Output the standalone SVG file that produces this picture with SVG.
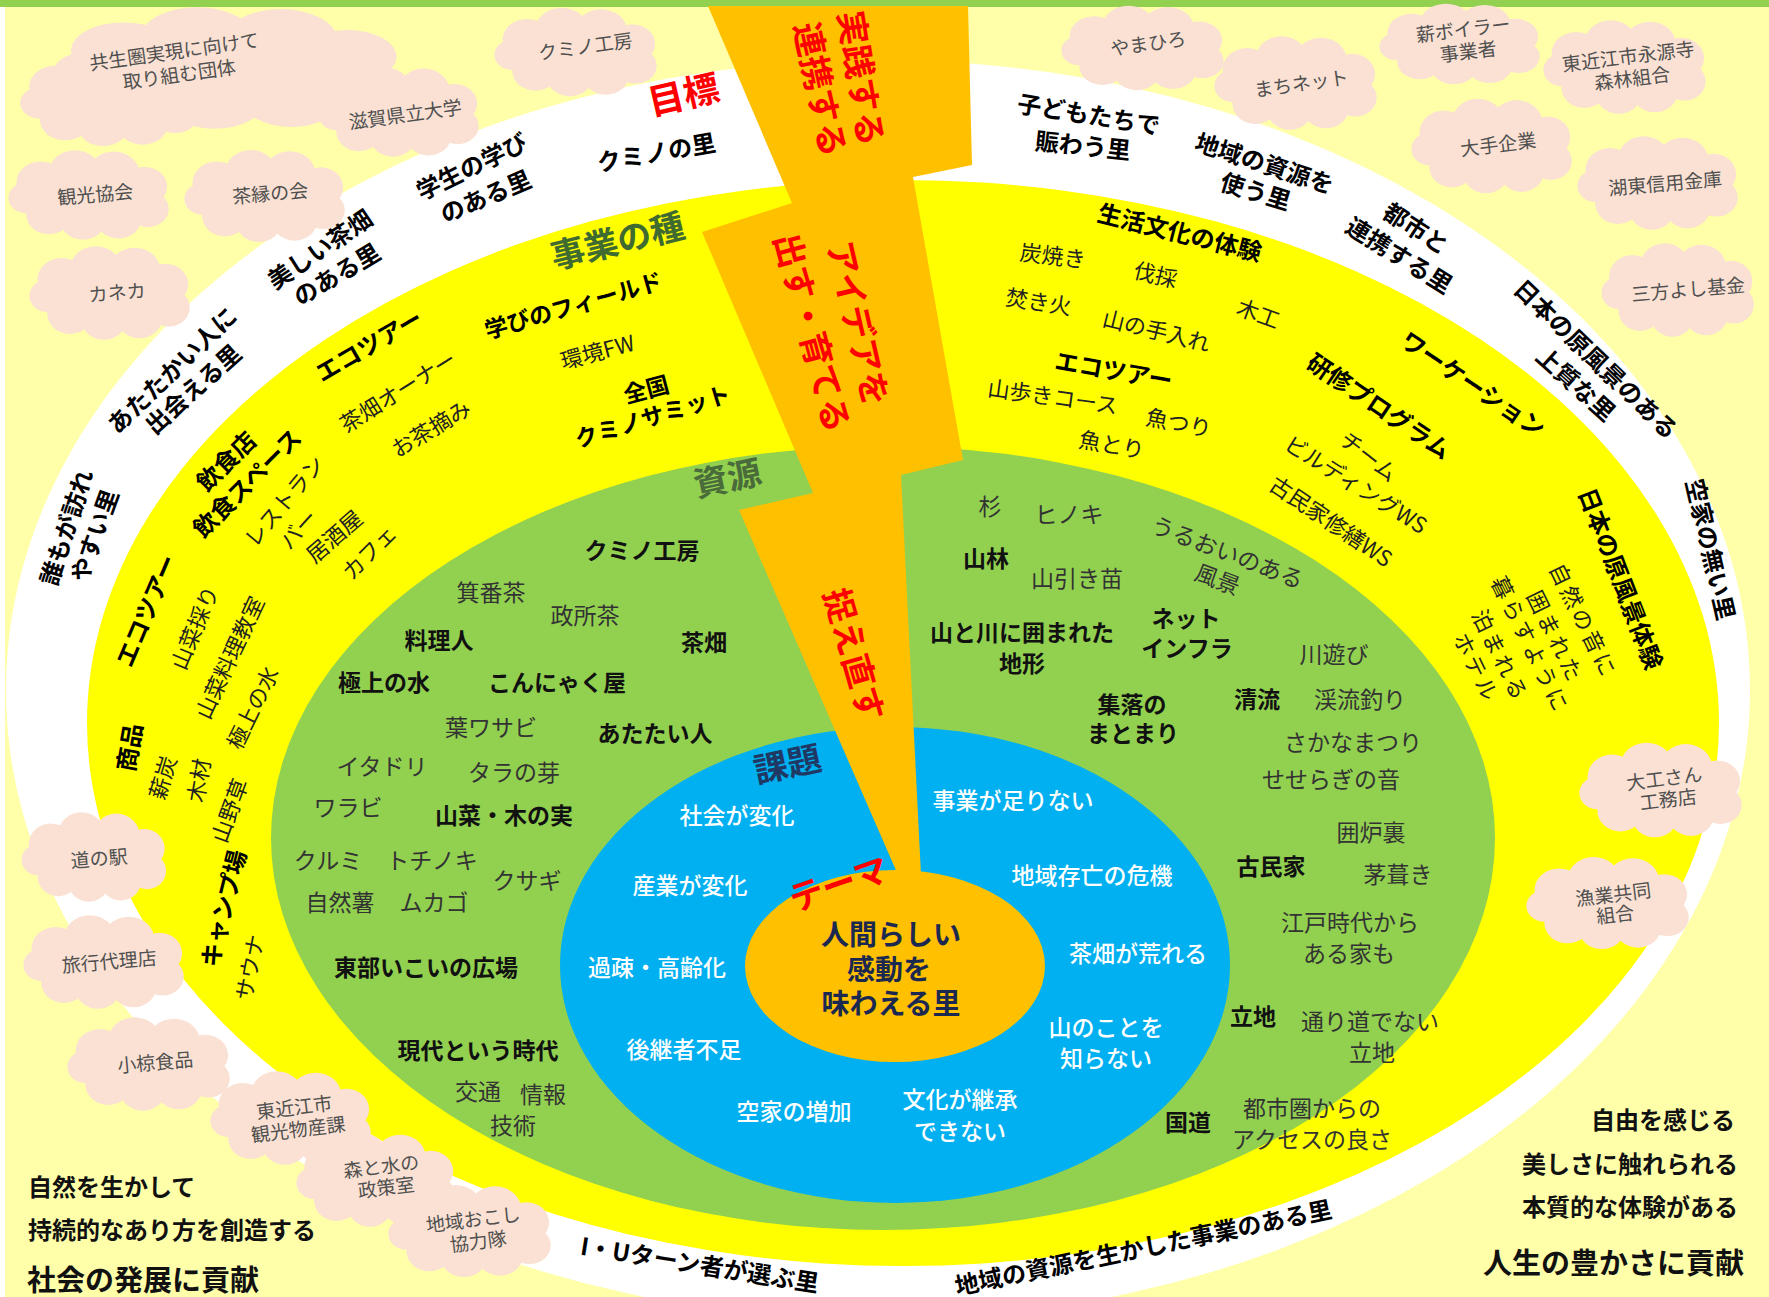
<svg xmlns="http://www.w3.org/2000/svg" xmlns:xlink="http://www.w3.org/1999/xlink" width="1769" height="1297" viewBox="0 0 1769 1297">
<style>
text{font-family:"Noto Sans CJK JP","Noto Sans CJK SC",sans-serif;dominant-baseline:central;text-anchor:middle}
.rb{font-size:24px;font-weight:700;fill:#000}
.yb{font-size:24px;font-weight:700;fill:#000}
.yn{font-size:22px;fill:#222}
.gb{font-size:23px;font-weight:700;fill:#111}
.gn{font-size:23px;fill:#333}
.wt{font-size:23px;font-weight:500;fill:#fff}
.cl{font-size:19px;fill:#505050}
.rd{font-size:34px;font-weight:700;fill:#ff0000}
.hd{font-size:34px;font-weight:700;fill:#3f6b30}
.ct{font-size:28px;font-weight:700;fill:#1b2850}
.ls{text-anchor:start;font-weight:700;fill:#111}
.rs{text-anchor:end;font-weight:700;fill:#111}
.cloud{fill:#FAE1D3}
</style>
<defs>
<g id="cloud">
<ellipse cx="0" cy="0" rx="80" ry="42"/>
<circle cx="-62" cy="-18" r="30"/>
<circle cx="-20" cy="-32" r="32"/>
<circle cx="28" cy="-30" r="32"/>
<circle cx="66" cy="-12" r="28"/>
<circle cx="70" cy="20" r="26"/>
<circle cx="34" cy="34" r="28"/>
<circle cx="-10" cy="36" r="28"/>
<circle cx="-52" cy="28" r="28"/>
<circle cx="-80" cy="4" r="22"/>
</g>
</defs>
<g id="background">
<rect width="1769" height="1297" fill="#FFFFA9"/>
<rect width="1769" height="7" fill="#92D050"/>
<rect x="0" y="7" width="5" height="1290" fill="#fff"/>
</g>
<g id="ring-goal"><ellipse cx="878" cy="690" rx="872" ry="630" fill="#fff"/></g>
<g id="ring-seeds"><ellipse cx="903" cy="723" rx="816" ry="543" fill="#FFFF00"/></g>
<g id="ring-resources"><ellipse cx="883" cy="838" rx="612" ry="392" fill="#92D050"/></g>
<g id="ring-issues"><ellipse cx="895" cy="965" rx="335" ry="238" fill="#00B0F0"/></g>
<g id="theme"><ellipse cx="895" cy="966" rx="150" ry="96" fill="#FFC000"/></g>
<g id="connectors">
<polygon id="bolt" fill="#FFC000" points="708,6 968,6 972,165 913,177 963,460 901,475 921,875 898,875 739,510 813,493 702,232 792,203"/>
</g>
<g id="clouds" class="cloud">
<use xlink:href="#cloud" transform="translate(232 68) scale(1.75 0.95)"/>
<use xlink:href="#cloud" transform="translate(112 100) scale(0.9 0.72)"/>
<use xlink:href="#cloud" transform="translate(578 52) scale(0.82 0.69)"/>
<use xlink:href="#cloud" transform="translate(401 112) scale(0.81 0.7)"/>
<use xlink:href="#cloud" transform="translate(91 195) scale(0.81 0.7)"/>
<use xlink:href="#cloud" transform="translate(267 196) scale(0.81 0.72)"/>
<use xlink:href="#cloud" transform="translate(112 293) scale(0.81 0.73)"/>
<use xlink:href="#cloud" transform="translate(1145 48) scale(0.82 0.66)"/>
<use xlink:href="#cloud" transform="translate(1298 83) scale(0.82 0.73)"/>
<use xlink:href="#cloud" transform="translate(1462 44) scale(0.81 0.63)"/>
<use xlink:href="#cloud" transform="translate(1627 67) scale(0.82 0.73)"/>
<use xlink:href="#cloud" transform="translate(1494 146) scale(0.81 0.74)"/>
<use xlink:href="#cloud" transform="translate(1660 183) scale(0.81 0.73)"/>
<use xlink:href="#cloud" transform="translate(1680 290) scale(0.77 0.73)"/>
<use xlink:href="#cloud" transform="translate(1663 790) scale(0.82 0.74)"/>
<use xlink:href="#cloud" transform="translate(1610 903) scale(0.82 0.72)"/>
<use xlink:href="#cloud" transform="translate(96 857) scale(0.73 0.7)"/>
<use xlink:href="#cloud" transform="translate(106 962) scale(0.81 0.73)"/>
<use xlink:href="#cloud" transform="translate(151 1064) scale(0.82 0.73)"/>
<use xlink:href="#cloud" transform="translate(293 1118) scale(0.81 0.73)"/>
<use xlink:href="#cloud" transform="translate(378 1180) scale(0.8 0.73)"/>
<use xlink:href="#cloud" transform="translate(472 1231) scale(0.82 0.72)"/>
</g>
<g id="cloud-labels" class="cl">
<text transform="translate(174 50) rotate(-8)">共生圏実現に向けて</text>
<text transform="translate(179 73) rotate(-8)">取り組む団体</text>
<text transform="translate(585 45) rotate(-8)">クミノ工房</text>
<text transform="translate(405 113) rotate(-8)">滋賀県立大学</text>
<text transform="translate(95 193) rotate(-5)">観光協会</text>
<text transform="translate(270 192) rotate(-5)">茶縁の会</text>
<text transform="translate(117 291) rotate(-5)">カネカ</text>
<text transform="translate(1148 42) rotate(-8)">やまひろ</text>
<text transform="translate(1301 82) rotate(-8)">まちネット</text>
<text transform="translate(1463 28) rotate(-7)">薪ボイラー</text>
<text transform="translate(1468 50) rotate(-7)">事業者</text>
<text transform="translate(1628 55) rotate(-7)">東近江市永源寺</text>
<text transform="translate(1632 77) rotate(-7)">森林組合</text>
<text transform="translate(1498 143) rotate(-7)">大手企業</text>
<text transform="translate(1665 182) rotate(-5)">湖東信用金庫</text>
<text transform="translate(1688 288) rotate(-5)">三方よし基金</text>
<text transform="translate(1664 777) rotate(-7)">大工さん</text>
<text transform="translate(1668 798) rotate(-7)">工務店</text>
<text transform="translate(1613 893) rotate(-7)">漁業共同</text>
<text transform="translate(1615 913) rotate(-7)">組合</text>
<text transform="translate(99 857) rotate(-5)">道の駅</text>
<text transform="translate(109 960) rotate(-5)">旅行代理店</text>
<text transform="translate(155 1061) rotate(-5)">小椋食品</text>
<text transform="translate(294 1106) rotate(-7)">東近江市</text>
<text transform="translate(298 1128) rotate(-7)">観光物産課</text>
<text transform="translate(381 1165) rotate(-7)">森と水の</text>
<text transform="translate(386 1186) rotate(-7)">政策室</text>
<text transform="translate(473 1218) rotate(-7)">地域おこし</text>
<text transform="translate(478 1240) rotate(-7)">協力隊</text>
</g>
<g id="goal-labels" class="rb">
<text class="rd" style="font-size:36px" transform="translate(683 92) rotate(-13)">目標</text>
<text transform="translate(656 151) rotate(-10)">クミノの里</text>
<text transform="translate(471 165) rotate(-26)">学生の学び</text>
<text transform="translate(485 195) rotate(-23)">のある里</text>
<text transform="translate(319 248) rotate(-34)">美しい茶畑</text>
<text transform="translate(336 273) rotate(-31)">のある里</text>
<text transform="translate(171 369) rotate(-44)">あたたかい人に</text>
<text transform="translate(192 388) rotate(-42)">出会える里</text>
<text transform="translate(65 527) rotate(-72)">誰もが訪れ</text>
<text transform="translate(93 535) rotate(-70)">やすい里</text>
<text transform="translate(1089 113) rotate(9)">子どもたちで</text>
<text transform="translate(1083 144) rotate(6)">賑わう里</text>
<text transform="translate(1265 162) rotate(18)">地域の資源を</text>
<text transform="translate(1256 190) rotate(17)">使う里</text>
<text transform="translate(1417 227) rotate(33)">都市と</text>
<text transform="translate(1400 254) rotate(32)">連携する里</text>
<text transform="translate(1597 358) rotate(44)">日本の原風景のある</text>
<text transform="translate(1577 383) rotate(42)">上質な里</text>
<text transform="translate(1712 549) rotate(77)">空家の無い里</text>
<text transform="translate(700 1263) rotate(9)">I・Uターン者が選ぶ里</text>
<text transform="translate(1143 1246) rotate(-11.7)">地域の資源を生かした事業のある里</text>
</g>
<g id="seed-labels">
<text class="hd" transform="translate(617 239) rotate(-14)">事業の種</text>
<text class="yb" style="font-size:23px" transform="translate(573 304) rotate(-16)">学びのフィールド</text>
<text class="yn" transform="translate(597 350) rotate(-15)">環境FW</text>
<text class="yb" style="font-size:23px" transform="translate(646 388) rotate(-15)">全国</text>
<text class="yb" style="font-size:23px" transform="translate(652 415) rotate(-17)">クミノサミット</text>
<text class="yb" transform="translate(368 344) rotate(-30)">エコツアー</text>
<text class="yn" transform="translate(397 390) rotate(-32)">茶畑オーナー</text>
<text class="yn" transform="translate(430 427) rotate(-31)">お茶摘み</text>
<text class="yb" transform="translate(225 460) rotate(-45)">飲食店</text>
<text class="yb" transform="translate(246 482) rotate(-45)">飲食スペース</text>
<text class="yn" transform="translate(283 500) rotate(-50)">レストラン</text>
<text class="yn" transform="translate(297 528) rotate(-48)">バー</text>
<text class="yn" transform="translate(333 535) rotate(-41)">居酒屋</text>
<text class="yn" transform="translate(368 551) rotate(-45)">カフェ</text>
<text class="yb" transform="translate(145 610) rotate(-67)">エコツアー</text>
<text class="yn" transform="translate(193 627) rotate(-67)">山菜採り</text>
<text class="yn" transform="translate(228 657) rotate(-65)">山菜料理教室</text>
<text class="yn" transform="translate(251 707) rotate(-64)">極上の水</text>
<text class="yb" transform="translate(128 747) rotate(-80)">商品</text>
<text class="yn" transform="translate(161 777) rotate(-73)">薪炭</text>
<text class="yn" transform="translate(197 780) rotate(-80)">木材</text>
<text class="yn" transform="translate(228 810) rotate(-70)">山野草</text>
<text class="yb" transform="translate(222 908) rotate(-76)">キャンプ場</text>
<text class="yn" transform="translate(248 967) rotate(-79)">サウナ</text>
<text class="yb" transform="translate(1180 231) rotate(14)">生活文化の体験</text>
<text class="yn" transform="translate(1053 254) rotate(7)">炭焼き</text>
<text class="yn" transform="translate(1156 273) rotate(14)">伐採</text>
<text class="yn" transform="translate(1039 300) rotate(9)">焚き火</text>
<text class="yn" transform="translate(1157 329) rotate(14)">山の手入れ</text>
<text class="yn" transform="translate(1259 312) rotate(20)">木工</text>
<text class="yb" transform="translate(1114 369) rotate(10)">エコツアー</text>
<text class="yn" transform="translate(1053 395) rotate(8)">山歩きコース</text>
<text class="yn" transform="translate(1179 421) rotate(11)">魚つり</text>
<text class="yn" transform="translate(1112 443) rotate(10)">魚とり</text>
<text class="yb" transform="translate(1474 383) rotate(34)">ワーケーション</text>
<text class="yb" transform="translate(1380 405) rotate(34)">研修プログラム</text>
<text class="yn" transform="translate(1370 455) rotate(38)">チーム</text>
<text class="yn" transform="translate(1357 483) rotate(32)">ビルディングWS</text>
<text class="yn" transform="translate(1332 520) rotate(34)">古民家修繕WS</text>
<text class="yb" transform="translate(1622 578) rotate(69)">日本の原風景体験</text>
<text class="yn" style="letter-spacing:3px" transform="translate(1585 620) rotate(64)">自然の音に</text>
<text class="yn" style="letter-spacing:3px" transform="translate(1557 636) rotate(64)">囲まれた</text>
<text class="yn" style="letter-spacing:3px" transform="translate(1532 644) rotate(64)">暮らすように</text>
<text class="yn" style="letter-spacing:3px" transform="translate(1502 655) rotate(64)">泊まれる</text>
<text class="yn" style="letter-spacing:3px" transform="translate(1478 667) rotate(64)">ホテル</text>
</g>
<g id="resource-labels">
<text class="hd" style="fill:#4a6b3a" transform="translate(727 476) rotate(-12)">資源</text>
<text class="gb" x="642" y="549">クミノ工房</text>
<text class="gn" x="491" y="591">箕番茶</text>
<text class="gn" x="585" y="614">政所茶</text>
<text class="gb" x="439" y="639">料理人</text>
<text class="gb" x="704" y="641">茶畑</text>
<text class="gb" x="384" y="681">極上の水</text>
<text class="gb" x="557" y="681">こんにゃく屋</text>
<text class="gn" x="491" y="726">葉ワサビ</text>
<text class="gb" x="655" y="732">あたたい人</text>
<text class="gn" x="382" y="765">イタドリ</text>
<text class="gn" x="514" y="771">タラの芽</text>
<text class="gn" x="348" y="806">ワラビ</text>
<text class="gb" x="504" y="814">山菜・木の実</text>
<text class="gn" x="328" y="859">クルミ</text>
<text class="gn" x="432" y="859">トチノキ</text>
<text class="gn" x="527" y="879">クサギ</text>
<text class="gn" x="340" y="901">自然薯</text>
<text class="gn" x="434" y="901">ムカゴ</text>
<text class="gb" x="426" y="966">東部いこいの広場</text>
<text class="gb" x="478" y="1049">現代という時代</text>
<text class="gn" x="478" y="1090">交通</text>
<text class="gn" x="543" y="1093">情報</text>
<text class="gn" x="513" y="1124">技術</text>
<text class="gn" x="990" y="505">杉</text>
<text class="gn" x="1069" y="513">ヒノキ</text>
<text class="gn" transform="translate(1228 551) rotate(21)">うるおいのある</text>
<text class="gn" transform="translate(1218 578) rotate(21)">風景</text>
<text class="gb" x="986" y="557">山林</text>
<text class="gn" x="1077" y="577">山引き苗</text>
<text class="gb" x="1022" y="631">山と川に囲まれた</text>
<text class="gb" x="1022" y="662">地形</text>
<text class="gb" x="1186" y="617">ネット</text>
<text class="gb" x="1187" y="647">インフラ</text>
<text class="gn" x="1334" y="653">川遊び</text>
<text class="gb" x="1132" y="703">集落の</text>
<text class="gb" x="1133" y="732">まとまり</text>
<text class="gb" x="1257" y="698">清流</text>
<text class="gn" x="1360" y="698">渓流釣り</text>
<text class="gn" x="1353" y="741">さかなまつり</text>
<text class="gn" x="1331" y="778">せせらぎの音</text>
<text class="gn" x="1371" y="831">囲炉裏</text>
<text class="gb" x="1271" y="865">古民家</text>
<text class="gn" x="1398" y="873">茅葺き</text>
<text class="gn" x="1350" y="921">江戸時代から</text>
<text class="gn" x="1349" y="952">ある家も</text>
<text class="gb" x="1253" y="1015">立地</text>
<text class="gn" x="1370" y="1020">通り道でない</text>
<text class="gn" x="1372" y="1051">立地</text>
<text class="gb" x="1188" y="1121">国道</text>
<text class="gn" x="1312" y="1107">都市圏からの</text>
<text class="gn" x="1312" y="1138">アクセスの良さ</text>
</g>
<g id="issue-labels">
<text class="hd" style="fill:#1f3864" transform="translate(787 762) rotate(-12)">課題</text>
<text class="wt" x="737" y="814">社会が変化</text>
<text class="wt" x="1013" y="799">事業が足りない</text>
<text class="wt" x="690" y="884">産業が変化</text>
<text class="wt" x="1092" y="874">地域存亡の危機</text>
<text class="wt" x="657" y="966">過疎・高齢化</text>
<text class="wt" x="1138" y="952">茶畑が荒れる</text>
<text class="wt" x="684" y="1048">後継者不足</text>
<text class="wt" x="1106" y="1026">山のことを</text>
<text class="wt" x="1106" y="1057">知らない</text>
<text class="wt" x="794" y="1110">空家の増加</text>
<text class="wt" x="960" y="1098">文化が継承</text>
<text class="wt" x="960" y="1130">できない</text>
</g>
<g id="theme-labels">
<text class="ct" x="891" y="933">人間らしい</text>
<text class="ct" x="889" y="968">感動を</text>
<text class="ct" x="891" y="1002">味わえる里</text>
<text class="rd" transform="translate(838 882) rotate(-19)">テーマ</text>
</g>
<g id="bolt-labels" class="rd">
<text transform="translate(863 78) rotate(81)">実践する</text>
<text transform="translate(822 89) rotate(78)">連携する</text>
<text transform="translate(860 323) rotate(77)">アイデアを</text>
<text transform="translate(814 332) rotate(75)">出す・育てる</text>
<text transform="translate(856 654) rotate(74)">捉え直す</text>
</g>
<g id="footer-left">
<text class="ls" style="font-size:24px" x="28" y="1185">自然を生かして</text>
<text class="ls" style="font-size:24px" x="28" y="1228">持続的なあり方を創造する</text>
<text class="ls" style="font-size:29px" x="27" y="1278">社会の発展に貢献</text>
</g>
<g id="footer-right">
<text class="rs" style="font-size:24px" x="1735" y="1118">自由を感じる</text>
<text class="rs" style="font-size:24px" x="1738" y="1162">美しさに触れられる</text>
<text class="rs" style="font-size:24px" x="1738" y="1205">本質的な体験がある</text>
<text class="rs" style="font-size:29px" x="1744" y="1261">人生の豊かさに貢献</text>
</g>
</svg>
